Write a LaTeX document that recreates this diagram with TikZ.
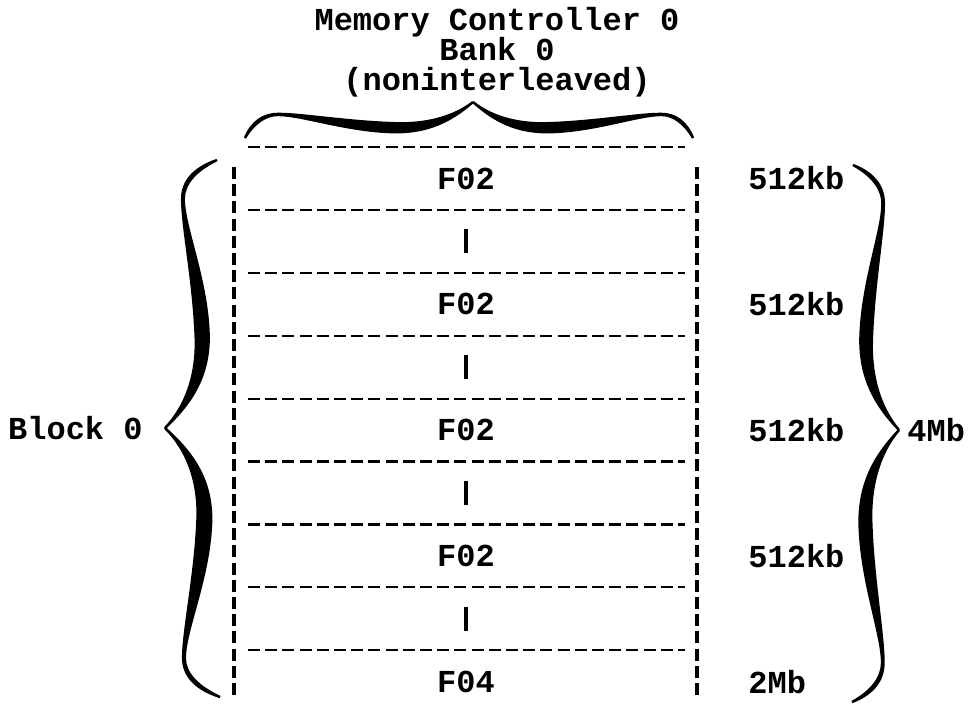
\documentclass[tikz,border=0pt]{standalone}
\usepackage{fontspec}
\newfontfamily\typefont{Liberation Mono}
\usetikzlibrary{positioning}
\tikzset{
  memtext/.style={font=\typefont\bfseries\fontsize{16}{15}\selectfont, inner sep=0pt},
  rowline/.style={line width=1.1pt, dash pattern=on 6pt off 2.6pt},
  sideline/.style={line width=1.7pt, dash pattern=on 6pt off 2.6pt},
  skipmark/.style={line width=1.7pt},
  bracefill/.style={fill=black, draw=black, line width=1.2pt}
}
% one half of a curly brace, end at (0,0), tip at (1,1)
\newcommand\halfbrace{%
  \filldraw[bracefill] (0,0) .. controls (0.03,0.45) and (0.08,0.67) .. (0.145,0.67)
    .. controls (0.25,0.67) and (0.45,0.45) .. (0.66,0.41)
    .. controls (0.8,0.38) and (0.92,0.6) .. (1,1)
    .. controls (0.9,0.45) and (0.8,0.16) .. (0.66,0.16)
    .. controls (0.45,0.18) and (0.25,0.64) .. (0.145,0.64)
    .. controls (0.09,0.64) and (0.04,0.42) .. (0,0) -- cycle;}

\begin{document}
\begin{tikzpicture}[x=0.5pt, y=-0.5pt]
  \useasboundingbox (0,0) rectangle (977,714);

  \node[memtext, align=center] (title) at (497,52) {Memory Controller 0\\Bank 0\\(noninterleaved)};

  % the bank column
  \foreach \k in {0,...,8}
    \draw[rowline] (248,{147+62.9*\k}) -- (685,{147+62.9*\k});
  \draw[sideline] (234,167) -- (234,697);
  \draw[sideline] (697,167) -- (697,697);

  \foreach \k/\part/\size in {0/F02/512kb, 2/F02/512kb, 4/F02/512kb, 6/F02/512kb, 8/F04/2Mb} {
    \node[memtext] (part\k) at (466,{147+62.9*(\k+0.5)}) {\part};
    \node[memtext, anchor=west] (size\k) at (748,{147+62.9*(\k+0.5)}) {\size};
  }
  \foreach \k in {1,3,5,7}
    \draw[skipmark] (466,{147+62.9*(\k+0.5)-12}) -- ++(0,24);

  % braces
  \begin{scope}[shift={(245,138)}, xscale=228, yscale=-36] \halfbrace \end{scope}
  \begin{scope}[shift={(693,138)}, xscale=-220, yscale=-36] \halfbrace \end{scope}
  \begin{scope}[shift={(217,160)}, rotate=-90, xscale=268, yscale=52] \halfbrace \end{scope}
  \begin{scope}[shift={(220,697)}, rotate=-90, xscale=-269, yscale=55] \halfbrace \end{scope}
  \begin{scope}[shift={(853,165)}, rotate=90, xscale=-265, yscale=46] \halfbrace \end{scope}
  \begin{scope}[shift={(852,702)}, rotate=90, xscale=272, yscale=47] \halfbrace \end{scope}

  \coordinate (lefttip) at (165,428);
  \coordinate (righttip) at (899,430);
  \node[memtext, left=11pt of lefttip] (block) {Block 0};
  \node[memtext, right=4pt of righttip] (total) {4Mb};
\end{tikzpicture}
\end{document}
